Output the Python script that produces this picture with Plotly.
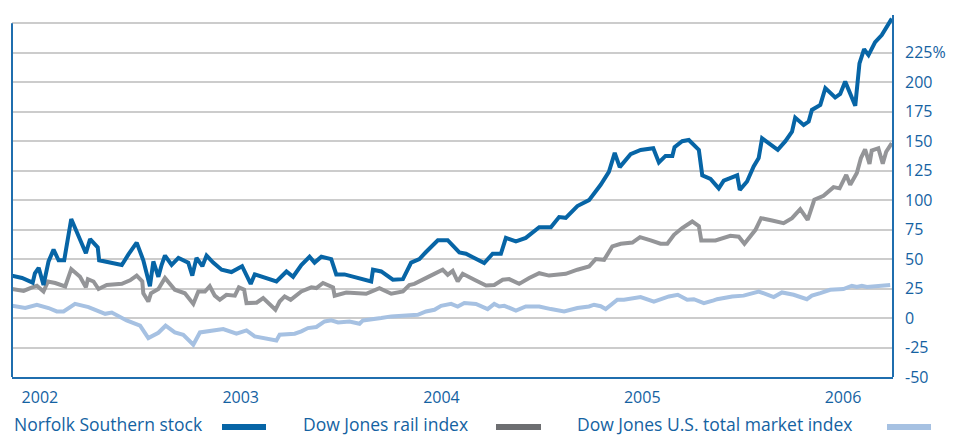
import plotly.graph_objects as go

# ---- data (decimal year, % change) ----
ns_t = [2001.861, 2001.911, 2001.964, 2001.975, 2001.994, 2002.018, 2002.043, 2002.068, 2002.093, 2002.121,
        2002.156, 2002.192, 2002.229, 2002.250, 2002.288, 2002.295, 2002.408, 2002.441, 2002.482, 2002.515,
        2002.548, 2002.565, 2002.590, 2002.606, 2002.623, 2002.656, 2002.690, 2002.739, 2002.759, 2002.780,
        2002.809, 2002.830, 2002.863, 2002.905, 2002.954, 2003.007, 2003.050, 2003.070, 2003.178, 2003.228,
        2003.261, 2003.302, 2003.343, 2003.368, 2003.402, 2003.451, 2003.476, 2003.517, 2003.584, 2003.650,
        2003.659, 2003.700, 2003.758, 2003.808, 2003.849, 2003.890, 2003.923, 2003.982, 2004.031, 2004.089,
        2004.122, 2004.213, 2004.255, 2004.296, 2004.321, 2004.371, 2004.420, 2004.487, 2004.545, 2004.586,
        2004.619, 2004.677, 2004.735, 2004.793, 2004.834, 2004.863, 2004.888, 2004.926, 2004.942, 2004.992,
        2005.055, 2005.083, 2005.116, 2005.150, 2005.161, 2005.199, 2005.232, 2005.282, 2005.299, 2005.340,
        2005.381, 2005.406, 2005.456, 2005.473, 2005.486, 2005.522, 2005.555, 2005.580, 2005.597, 2005.675,
        2005.713, 2005.746, 2005.762, 2005.804, 2005.829, 2005.845, 2005.887, 2005.912, 2005.961, 2005.986,
        2006.011, 2006.061, 2006.082, 2006.105, 2006.127, 2006.160, 2006.193, 2006.243]
ns_v = [35.8, 34, 30, 38, 42.6, 28, 48, 58, 49, 49,
        84, 69, 55, 67, 60, 49, 45, 54, 64, 49,
        27, 48, 35, 45, 53, 45, 51, 47, 36, 51,
        44, 53, 47, 41, 39, 44, 29, 37, 31, 39.5,
        35, 45, 52, 47, 52, 50, 37, 37, 34, 31,
        41, 39.5, 32.5, 33, 47, 50, 56, 66, 66, 55.6,
        54.5, 46.6, 54.5, 54.5, 68, 65, 68, 77, 77, 85.6,
        85, 95, 100, 113, 124, 140, 128, 135.6, 139, 142.6,
        144, 132, 137.5, 137.5, 145, 150, 151, 142.6, 121, 118,
        110, 116.6, 119.5, 121, 108.7, 115.8, 128.5, 135.6, 152.5, 142.6,
        150, 158, 170, 163.8, 166.6, 176.5, 180.8, 195, 187, 190,
        200.5, 180, 216, 228, 223, 234, 240, 254]

rail_t = [2001.861, 2001.919, 2001.952, 2001.985, 2002.018, 2002.040, 2002.076, 2002.126, 2002.156, 2002.200,
          2002.229, 2002.239, 2002.267, 2002.292, 2002.333, 2002.408, 2002.449, 2002.482, 2002.510, 2002.515,
          2002.540, 2002.553, 2002.590, 2002.623, 2002.672, 2002.722, 2002.764, 2002.789, 2002.822, 2002.846,
          2002.871, 2002.896, 2002.929, 2002.971, 2002.991, 2003.017, 2003.029, 2003.079, 2003.112, 2003.173,
          2003.194, 2003.219, 2003.249, 2003.302, 2003.352, 2003.377, 2003.410, 2003.460, 2003.468, 2003.526,
          2003.625, 2003.691, 2003.750, 2003.808, 2003.840, 2003.865, 2003.932, 2004.006, 2004.031, 2004.056,
          2004.081, 2004.106, 2004.164, 2004.222, 2004.263, 2004.305, 2004.337, 2004.387, 2004.437, 2004.487,
          2004.536, 2004.619, 2004.677, 2004.735, 2004.768, 2004.810, 2004.851, 2004.893, 2004.951, 2004.989,
          2005.042, 2005.091, 2005.125, 2005.158, 2005.199, 2005.249, 2005.282, 2005.294, 2005.365, 2005.415,
          2005.439, 2005.481, 2005.509, 2005.564, 2005.592, 2005.647, 2005.704, 2005.746, 2005.787, 2005.824,
          2005.857, 2005.903, 2005.953, 2005.983, 2006.016, 2006.036, 2006.069, 2006.089, 2006.110, 2006.132,
          2006.143, 2006.176, 2006.198, 2006.215, 2006.243]
rail_v = [24.6, 23, 25.4, 27.4, 22.5, 31, 29.7, 26.8, 41.5, 35,
          26, 33, 31, 24.6, 28, 29, 32, 36, 31, 21,
          14, 21, 24.6, 34, 24, 21, 12, 22.5, 22.5, 27,
          19, 15.5, 19.7, 19, 26, 24, 12.7, 13, 17, 7,
          14, 18.3, 15.5, 22.5, 26, 25.4, 29.7, 26, 19, 21.7,
          20.6, 25.4, 20.6, 22.5, 28, 29, 34.7, 41, 36.7, 40,
          31, 37.5, 32.5, 27.6, 28, 32.5, 33, 29, 34, 38,
          36, 37.5, 41, 43.7, 50, 49.4, 60.7, 63, 64, 68.6,
          65.8, 63, 63, 70.6, 76.3, 81.9, 78, 65.8, 65.8, 69,
          69.7, 69, 63, 74.8, 84.7, 82.7, 80.5, 84.7, 92.4, 83.3,
          100.3, 103.6, 111, 110, 121.4, 113, 123, 135.6, 143, 130.8,
          142, 144, 130.8, 141, 148.3]

mkt_t = [2001.861, 2001.927, 2001.985, 2002.043, 2002.084, 2002.118, 2002.175, 2002.242, 2002.325, 2002.358,
         2002.432, 2002.499, 2002.540, 2002.590, 2002.626, 2002.672, 2002.714, 2002.764, 2002.797, 2002.846,
         2002.913, 2002.979, 2003.029, 2003.070, 2003.178, 2003.194, 2003.269, 2003.302, 2003.335, 2003.377,
         2003.418, 2003.451, 2003.485, 2003.542, 2003.592, 2003.609, 2003.650, 2003.700, 2003.750, 2003.849,
         2003.882, 2003.923, 2003.965, 2003.998, 2004.048, 2004.081, 2004.114, 2004.172, 2004.230, 2004.263,
         2004.288, 2004.313, 2004.371, 2004.420, 2004.487, 2004.545, 2004.611, 2004.677, 2004.735, 2004.760,
         2004.793, 2004.818, 2004.876, 2004.909, 2004.992, 2005.058, 2005.133, 2005.177, 2005.224, 2005.257,
         2005.307, 2005.356, 2005.373, 2005.448, 2005.505, 2005.580, 2005.655, 2005.696, 2005.754, 2005.820,
         2005.845, 2005.887, 2005.936, 2006.002, 2006.044, 2006.069, 2006.094, 2006.119, 2006.168, 2006.235]
mkt_v = [10.4, 8.5, 11.3, 8.5, 5.6, 5.6, 12, 9.3, 3.6, 4.7,
         -2, -6.5, -17, -12.5, -6.5, -12.2, -14.2, -22.6, -12.2, -11.3,
         -9.3, -13.3, -10.5, -15.6, -19, -14.2, -13.3, -11.3, -8.5, -7.6,
         -2.9, -2, -3.7, -2.9, -4.8, -2, -1.4, 0, 1.4, 2.8,
         2.8, 5.6, 7, 10.4, 12, 9.8, 12.7, 12, 7.6, 12,
         9.8, 10.4, 6.4, 9.8, 9.8, 7.6, 5.6, 8.5, 9.8, 11.3,
         10, 7.6, 15.5, 15.5, 17.8, 14, 18.3, 19.7, 15.5, 16,
         12.7, 15, 16, 18.3, 19, 22.5, 17.8, 21.7, 19.7, 16,
         19, 21.2, 24, 24.6, 27.4, 26.3, 27.4, 26.3, 26.8, 28]

series_names = ["Norfolk Southern stock", "Dow Jones rail index", "Dow Jones U.S. total market index"]
year_ticks = [2002, 2003, 2004, 2005, 2006]
year_labels = ["2002", "2003", "2004", "2005", "2006"]
y_ticks = [-50, -25, 0, 25, 50, 75, 100, 125, 150, 175, 200, 225, 250]
y_labels = ["-50", "-25", "0", "25", "50", "75", "100", "125", "150", "175", "200", "225%", ""]

# ---- styles ----
C_NS = "#0765a6"
C_RAIL = "#949598"
C_RAIL_KEY = "#6d6e71"
C_MKT = "#a6c1e2"
C_AXIS = "#1f6eae"
C_TEXT = "#1462a2"
FONT = "Open Sans"

ML, MR, MT, MB = 12, 64, 15, 59
FW, FH = 957, 436
W = FW - ML - MR
H = FH - MT - MB

fig = go.Figure()
fig.add_trace(go.Scatter(x=mkt_t, y=mkt_v, mode="lines", line=dict(color=C_MKT, width=4), name=series_names[2]))
fig.add_trace(go.Scatter(x=rail_t, y=rail_v, mode="lines", line=dict(color=C_RAIL, width=4), name=series_names[1]))
fig.add_trace(go.Scatter(x=ns_t, y=ns_v, mode="lines", line=dict(color=C_NS, width=4), name=series_names[0]))

x0, x1 = 2001.861, 2006.249
fig.update_xaxes(range=[x0, x1], tickvals=year_ticks, ticktext=year_labels, showgrid=False,
                 zeroline=False, showline=True, linecolor=C_AXIS, linewidth=2, ticks="",
                 ticklabelstandoff=5, tickfont=dict(family=FONT, size=16, color=C_TEXT))
fig.update_yaxes(range=[-50, 257], tickvals=y_ticks, ticktext=y_labels, side="right",
                 showgrid=True, gridcolor="#cccccc", gridwidth=1.5, zeroline=False, showline=False,
                 ticks="", ticklabelstandoff=11, tickfont=dict(family=FONT, size=16, color=C_TEXT))

# axis frame lines
fig.add_shape(type="line", xref="paper", yref="y", x0=0, x1=0, y0=-50, y1=250,
              line=dict(color=C_AXIS, width=2))
fig.add_shape(type="line", xref="paper", yref="paper", x0=1, x1=1, y0=0, y1=1,
              line=dict(color=C_AXIS, width=2))

# custom legend: text followed by swatch (pixel positions converted to paper coords)
legend_items = [
    (series_names[0], C_NS, 12, 222, 266),
    (series_names[1], C_RAIL_KEY, 301, 496, 541),
    (series_names[2], C_MKT, 575, 887, 931),
]
LEG_Y = 424
for name, col, tx, a, b in legend_items:
    fig.add_annotation(text=name, xref="paper", yref="paper", x=(tx - ML) / W,
                       y=-(LEG_Y - (FH - MB)) / H, xanchor="left", yanchor="middle", showarrow=False,
                       font=dict(family=FONT, size=17.5, color=C_TEXT))
    fig.add_shape(type="line", xref="paper", yref="paper",
                  x0=(a - ML) / W, x1=(b - ML) / W, y0=-(427 - (FH - MB)) / H, y1=-(427 - (FH - MB)) / H,
                  line=dict(color=col, width=6))

fig.update_layout(
    width=FW, height=FH, margin=dict(l=ML, r=MR, t=MT, b=MB),
    paper_bgcolor="white", plot_bgcolor="white", showlegend=False,
)

fig.write_html("out.html")
